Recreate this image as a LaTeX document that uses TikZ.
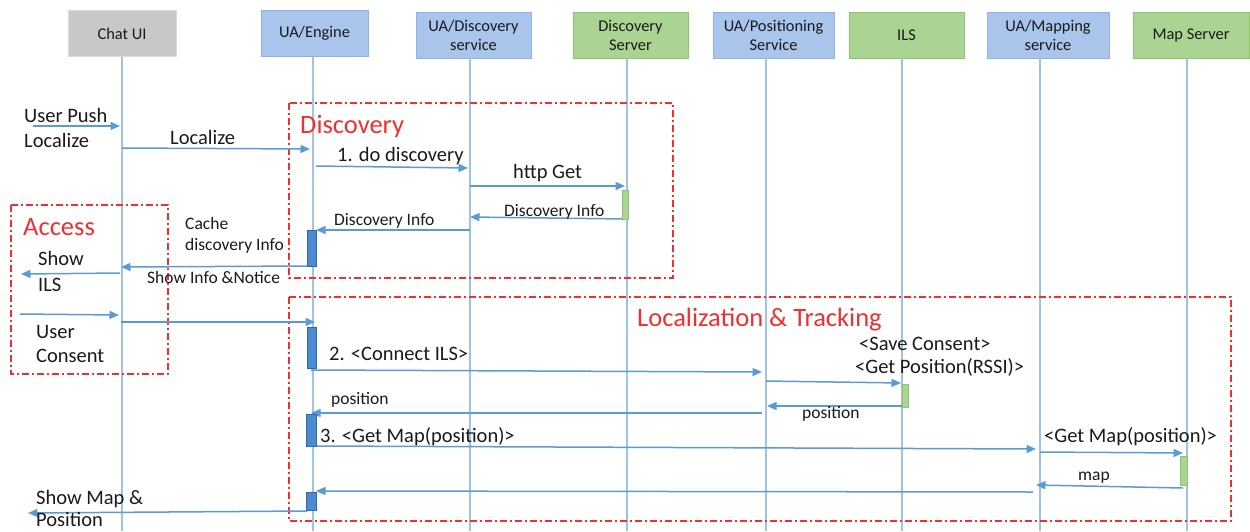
\documentclass[tikz,border=0pt]{standalone}
\usepackage{fontspec}
\setmainfont{Carlito}
\usetikzlibrary{arrows.meta}
\definecolor{hdrblue}{HTML}{A9C5EB}
\definecolor{hdrblueb}{HTML}{8EB4E3}
\definecolor{hdrgreen}{HTML}{ABD392}
\definecolor{hdrgreenb}{HTML}{8EC66E}
\definecolor{hdrgrey}{HTML}{C8C8C8}
\definecolor{hdrgreyb}{HTML}{DADADA}
\definecolor{lifec}{HTML}{9DC3E6}
\definecolor{msgc}{HTML}{5B9BD5}
\definecolor{barc}{HTML}{4A8CCF}
\definecolor{barb}{HTML}{35689E}
\definecolor{redc}{HTML}{F03030}
\definecolor{txtc}{HTML}{1A1A1A}
\tikzset{
  hdr/.style={minimum width=#1, minimum height=46pt, inner sep=0pt, align=center,
    font=\fontsize{16.4}{19}\selectfont, text=txtc, line width=0.9pt},
  hblue/.style={hdr=#1, fill=hdrblue, draw=hdrblueb},
  hgreen/.style={hdr=#1, fill=hdrgreen, draw=hdrgreenb},
  hgrey/.style={hdr=#1, fill=hdrgrey, draw=hdrgreyb},
  life/.style={draw=lifec, line width=1.1pt},
  msg/.style={draw=msgc, line width=1.5pt, -{Triangle[length=9.5pt,width=8pt]}},
  actbar/.style={fill=barc, draw=barb, line width=0.9pt},
  gbar/.style={fill=hdrgreen, draw=hdrgreenb, line width=0.8pt},
  group/.style={draw=redc, line width=1.2pt, dash pattern=on 7pt off 3pt on 2pt off 3pt},
  big/.style={anchor=base west, inner sep=0pt, text=txtc, font=\fontsize{20.5}{24}\selectfont},
  small/.style={anchor=base west, inner sep=0pt, text=txtc, font=\fontsize{17.5}{21}\selectfont},
  title/.style={anchor=base west, inner sep=0pt, text=redc, font=\fontsize{26.5}{30}\selectfont},
}
\begin{document}
\begin{tikzpicture}[x=1pt,y=-1pt]
\useasboundingbox (0,0) rectangle (1250,531);
% headers
\node[hgrey=108pt]  (chat) at (122,33.5) {Chat UI};
\node[hblue=107pt]  (eng)  at (314.5,33.5) {UA/Engine};
\node[hblue=115pt]  (uad)  at (473.5,35) {UA/Discovery\\service};
\node[hgreen=115pt] (ds)   at (630.5,35) {Discovery\\Server};
\node[hblue=121pt]  (uap)  at (773.5,35) {UA/Positioning\\Service};
\node[hgreen=115pt] (ils)  at (906.5,35) {ILS};
\node[hblue=122pt]  (uam)  at (1048,35) {UA/Mapping\\service};
\node[hgreen=116pt] (ms)   at (1191,35) {Map Server};
% lifelines
\foreach \n/\x in {chat/122,eng/313,uad/470,ds/627,uap/766,ils/902,uam/1040,ms/1187}{
  \coordinate (\n top) at (\x,0 |- \n.south);
  \coordinate (\n bot) at (\x,531);
  \draw[life] (\n top) -- (\n bot);
}
% groups
\draw[group] (289,103) rectangle (673,278);
\draw[group] (11,205) rectangle (168,374);
\draw[group] (289,297) rectangle (1231,521);
% message end points
\coordinate (m1s) at (33,126);   \coordinate (m1e) at (120,126);
\coordinate (m2s) at (122,148);  \coordinate (m2e) at (310,149);
\coordinate (m3s) at (316,166);  \coordinate (m3e) at (468,168);
\coordinate (m4s) at (470,186);  \coordinate (m4e) at (625,186);
\coordinate (m5s) at (626,219);  \coordinate (m5e) at (470,217);
\coordinate (m6s) at (470,230);  \coordinate (m6e) at (316,230);
\coordinate (m7s) at (307,266);  \coordinate (m7e) at (121,267);
\coordinate (m8s) at (120,273);  \coordinate (m8e) at (21,274);
\coordinate (m9s) at (20,314);   \coordinate (m9e) at (119,315);
\coordinate (m10s) at (121,322); \coordinate (m10e) at (315,322);
\coordinate (m11s) at (311,370); \coordinate (m11e) at (762,372);
\coordinate (m12s) at (766,381); \coordinate (m12e) at (901,383);
\coordinate (m13s) at (902,406); \coordinate (m13e) at (767,406);
\coordinate (m14s) at (762,413); \coordinate (m14e) at (311,413);
\coordinate (m15s) at (316,446); \coordinate (m15e) at (1036,449);
\coordinate (m16s) at (1040,452);\coordinate (m16e) at (1183,453);
\coordinate (m17s) at (1183,488);\coordinate (m17e) at (1036,485);
\coordinate (m18s) at (1033,492);\coordinate (m18e) at (316,491);
\coordinate (m19s) at (307,511); \coordinate (m19e) at (28,513);
\foreach \i in {1,...,19}{\draw[msg] (m\i s) -- (m\i e);}
% activation bars
\draw[actbar] (307,230) rectangle (316,266);
\draw[actbar] (307,327) rectangle (316,368);
\draw[actbar] (306,414) rectangle (316,446);
\draw[actbar] (306,492) rectangle (316,510);
\draw[gbar] (622,190) rectangle (628,219);
\draw[gbar] (902,384) rectangle (908,407);
\draw[gbar] (1180,456) rectangle (1187,485);
% titles
\node[title] (tdisc) at (300,133) {Discovery};
\node[title] (tacc) at (23,235) {Access};
\node[title] (tloc) at (637,326) {Localization \& Tracking};
% labels
\node[big] (l1a) at (24,122) {User Push};
\node[big] (l1b) at (24,147) {Localize};
\node[big] (l2) at (170,144) {Localize};
\node[big] (l3) at (337,161) {1. do discovery};
\node[big] (l4) at (513,178) {http Get};
\node[small] (l5) at (504,216) {Discovery Info};
\node[small] (l6) at (334,225) {Discovery Info};
\node[small] (l7a) at (185,229) {Cache};
\node[small] (l7b) at (185,250) {discovery Info};
\node[small] (l8) at (147,283) {Show Info \&Notice};
\node[big] (l9a) at (38,265) {Show};
\node[big] (l9b) at (38,291) {ILS};
\node[big] (l10a) at (36,338) {User};
\node[big] (l10b) at (36,362) {Consent};
\node[big] (l11) at (329,360) {2. <Connect ILS>};
\node[big] (l12a) at (859,350) {<Save Consent>};
\node[big] (l12b) at (855,373) {<Get Position(RSSI)>};
\node[small] (l13) at (802,418) {position};
\node[small] (l14) at (331,404) {position};
\node[big] (l15) at (320,442) {3. <Get Map(position)>};
\node[big] (l16) at (1044,442) {<Get Map(position)>};
\node[small] (l17) at (1078,480) {map};
\node[big] (l19a) at (36,504) {Show Map \&};
\node[big] (l19b) at (36,526) {Position};
\end{tikzpicture}
\end{document}
